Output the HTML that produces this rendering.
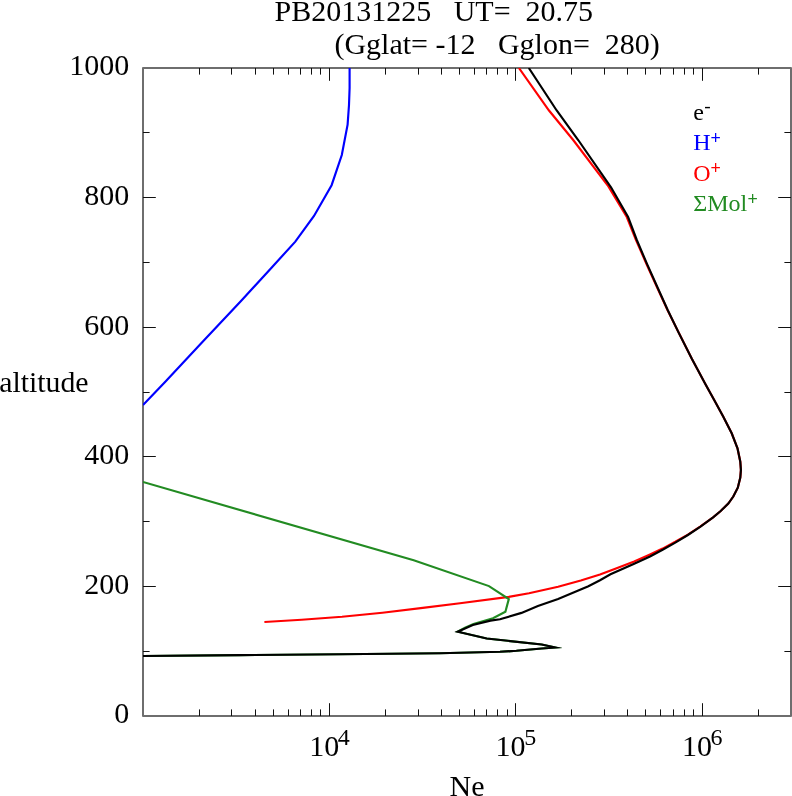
<!DOCTYPE html>
<html lang="en"><head><meta charset="utf-8"><title>PB20131225 UT= 20.75</title>
<style>html,body{margin:0;padding:0;background:#fff;overflow:hidden}svg{display:block}text{font-family:'Liberation Serif', 'DejaVu Serif', serif;white-space:pre}</style>
</head><body>
<svg width="792" height="796" viewBox="0 0 792 796">
<rect width="792" height="796" fill="#fff"/>
<defs><clipPath id="c"><rect x="143" y="68" width="648" height="648"/></clipPath></defs>
<rect x="143" y="68" width="648" height="648" fill="none" stroke="#6e6e6e" stroke-width="2" stroke-linejoin="round"/>
<g fill="#111">
<rect x="143" y="651" width="6.6" height="1"/>
<rect x="784.4" y="651" width="6.6" height="1"/>
<rect x="143" y="586" width="12.8" height="1"/>
<rect x="778.2" y="586" width="12.8" height="1"/>
<rect x="143" y="521" width="6.6" height="1"/>
<rect x="784.4" y="521" width="6.6" height="1"/>
<rect x="143" y="456" width="12.8" height="1"/>
<rect x="778.2" y="456" width="12.8" height="1"/>
<rect x="143" y="392" width="6.6" height="1"/>
<rect x="784.4" y="392" width="6.6" height="1"/>
<rect x="143" y="327" width="12.8" height="1"/>
<rect x="778.2" y="327" width="12.8" height="1"/>
<rect x="143" y="262" width="6.6" height="1"/>
<rect x="784.4" y="262" width="6.6" height="1"/>
<rect x="143" y="197" width="12.8" height="1"/>
<rect x="778.2" y="197" width="12.8" height="1"/>
<rect x="143" y="132" width="6.6" height="1"/>
<rect x="784.4" y="132" width="6.6" height="1"/>
<rect x="199" y="68" width="1" height="6.6"/>
<rect x="199" y="709.4" width="1" height="6.6"/>
<rect x="231" y="68" width="1" height="6.6"/>
<rect x="231" y="709.4" width="1" height="6.6"/>
<rect x="255" y="68" width="1" height="6.6"/>
<rect x="255" y="709.4" width="1" height="6.6"/>
<rect x="273" y="68" width="1" height="6.6"/>
<rect x="273" y="709.4" width="1" height="6.6"/>
<rect x="288" y="68" width="1" height="6.6"/>
<rect x="288" y="709.4" width="1" height="6.6"/>
<rect x="300" y="68" width="1" height="6.6"/>
<rect x="300" y="709.4" width="1" height="6.6"/>
<rect x="311" y="68" width="1" height="6.6"/>
<rect x="311" y="709.4" width="1" height="6.6"/>
<rect x="320" y="68" width="1" height="6.6"/>
<rect x="320" y="709.4" width="1" height="6.6"/>
<rect x="329" y="68" width="1" height="12.8"/>
<rect x="329" y="703.2" width="1" height="12.8"/>
<rect x="385" y="68" width="1" height="6.6"/>
<rect x="385" y="709.4" width="1" height="6.6"/>
<rect x="418" y="68" width="1" height="6.6"/>
<rect x="418" y="709.4" width="1" height="6.6"/>
<rect x="441" y="68" width="1" height="6.6"/>
<rect x="441" y="709.4" width="1" height="6.6"/>
<rect x="459" y="68" width="1" height="6.6"/>
<rect x="459" y="709.4" width="1" height="6.6"/>
<rect x="474" y="68" width="1" height="6.6"/>
<rect x="474" y="709.4" width="1" height="6.6"/>
<rect x="486" y="68" width="1" height="6.6"/>
<rect x="486" y="709.4" width="1" height="6.6"/>
<rect x="497" y="68" width="1" height="6.6"/>
<rect x="497" y="709.4" width="1" height="6.6"/>
<rect x="507" y="68" width="1" height="6.6"/>
<rect x="507" y="709.4" width="1" height="6.6"/>
<rect x="515" y="68" width="1" height="12.8"/>
<rect x="515" y="703.2" width="1" height="12.8"/>
<rect x="571" y="68" width="1" height="6.6"/>
<rect x="571" y="709.4" width="1" height="6.6"/>
<rect x="604" y="68" width="1" height="6.6"/>
<rect x="604" y="709.4" width="1" height="6.6"/>
<rect x="627" y="68" width="1" height="6.6"/>
<rect x="627" y="709.4" width="1" height="6.6"/>
<rect x="645" y="68" width="1" height="6.6"/>
<rect x="645" y="709.4" width="1" height="6.6"/>
<rect x="660" y="68" width="1" height="6.6"/>
<rect x="660" y="709.4" width="1" height="6.6"/>
<rect x="673" y="68" width="1" height="6.6"/>
<rect x="673" y="709.4" width="1" height="6.6"/>
<rect x="684" y="68" width="1" height="6.6"/>
<rect x="684" y="709.4" width="1" height="6.6"/>
<rect x="693" y="68" width="1" height="6.6"/>
<rect x="693" y="709.4" width="1" height="6.6"/>
<rect x="702" y="68" width="1" height="12.8"/>
<rect x="702" y="703.2" width="1" height="12.8"/>
<rect x="758" y="68" width="1" height="6.6"/>
<rect x="758" y="709.4" width="1" height="6.6"/>
</g>
<g clip-path="url(#c)">
<polyline points="349.6,68.0 349.6,88.0 349.0,105.0 347.6,124.6 341.8,155.0 331.6,185.2 314.0,216.0 295.3,241.6 271.3,268.0 241.0,301.0 203.1,341.3 165.3,381.7 143.0,405.0" fill="none" stroke="#0000ff" stroke-width="2.15" stroke-linejoin="miter" stroke-miterlimit="10" />
<polyline points="518.9,68.0 549.0,110.5 573.2,140.0 608.4,186.4 626.8,217.0 635.8,239.5 646.6,264.2 657.5,288.2 667.5,310.0 678.4,332.1 691.7,358.6 705.6,384.5 714.2,400.0 723.3,416.7 731.7,433.3 737.5,448.3 740.3,461.7 740.9,470.0 740.3,477.6 737.8,487.7 733.3,496.5 728.3,503.5 720.7,511.0 713.1,517.3 700.5,526.4 687.9,534.6 675.3,541.8 662.6,548.6 650.0,554.4 634.2,561.4 615.3,568.8 600.0,574.6 580.8,580.5 558.1,586.8 529.0,593.2 508.8,596.9 460.0,603.3 422.8,607.9 382.4,612.7 342.0,616.8 301.6,619.7 264.4,622.0" fill="none" stroke="#ff0000" stroke-width="2.15" stroke-linejoin="miter" stroke-miterlimit="10" />
<polyline points="143.0,482.0 413.7,560.2 489.0,586.1 508.8,599.1 505.4,611.8 493.0,618.2 473.5,624.0 465.0,627.6 457.7,631.7 486.7,638.5 541.7,644.5 555.2,647.5 541.7,648.5 516.4,650.8 500.0,651.8 440.0,653.3 340.0,654.3 240.0,655.1 143.0,656.0" fill="none" stroke="#228b22" stroke-width="2.15" stroke-linejoin="miter" stroke-miterlimit="10" />
<polyline points="528.8,68.0 556.7,110.5 578.2,140.0 611.0,187.3 628.1,217.0 636.6,239.5 647.1,264.2 657.9,288.2 667.7,310.0 678.4,332.1 691.7,358.6 705.6,384.5 714.2,400.0 723.3,416.7 731.7,433.3 737.5,448.3 740.3,461.7 740.9,470.0 740.3,477.6 737.8,487.7 733.3,496.5 728.3,503.5 720.7,511.0 713.1,517.3 700.5,526.6 687.9,535.0 675.3,542.6 662.6,549.8 650.0,556.5 634.2,563.8 610.5,574.3 600.0,580.2 588.4,586.3 578.3,590.6 558.1,599.0 537.9,606.0 521.5,612.9 500.0,619.2 490.5,620.6 472.8,625.0 457.7,631.7 486.7,638.5 541.7,644.5 555.2,647.5 541.7,648.5 516.4,650.8 500.0,651.8 440.0,653.3 340.0,654.3 240.0,655.1 143.0,656.0" fill="none" stroke="#000000" stroke-width="2.15" stroke-linejoin="miter" stroke-miterlimit="10" />
</g>
<g fill="#000">
<text transform="translate(274.50 20.80)" font-size="30" xml:space="preserve">PB20131225   UT=  20.75</text>
<text transform="translate(334.40 53.90)" font-size="30" xml:space="preserve">(Gglat= -12   Gglon=  280)</text>
<text transform="translate(129.30 723.30)" font-size="30" text-anchor="end" xml:space="preserve">0</text>
<text transform="translate(129.30 593.70)" font-size="30" text-anchor="end" xml:space="preserve">200</text>
<text transform="translate(129.30 464.10)" font-size="30" text-anchor="end" xml:space="preserve">400</text>
<text transform="translate(129.30 334.50)" font-size="30" text-anchor="end" xml:space="preserve">600</text>
<text transform="translate(129.30 204.90)" font-size="30" text-anchor="end" xml:space="preserve">800</text>
<text transform="translate(129.30 75.30)" font-size="30" text-anchor="end" xml:space="preserve">1000</text>
<text transform="translate(-0.80 391.80)" font-size="29.8" xml:space="preserve">altitude</text>
<text transform="translate(467.00 796.00)" font-size="30" text-anchor="middle" xml:space="preserve">Ne</text>
<text transform="translate(309.16 756.40)" font-size="30" xml:space="preserve">10</text>
<text transform="translate(337.86 745.30)" font-size="24" xml:space="preserve">4</text>
<text transform="translate(495.52 756.40)" font-size="30" xml:space="preserve">10</text>
<text transform="translate(524.22 745.30)" font-size="24" xml:space="preserve">5</text>
<text transform="translate(681.88 756.40)" font-size="30" xml:space="preserve">10</text>
<text transform="translate(710.58 745.30)" font-size="24" xml:space="preserve">6</text>
</g>
<g font-size="24">
<text x="693.2" y="119.9" fill="#000000">e</text>
<text x="704.3" y="111.5" fill="#000000" font-size="19.2">-</text>
<text x="693.2" y="150.3" fill="#0000ff">H</text>
<text x="710.4" y="144.1" fill="#0000ff" font-size="17.6" style="font-family:'Liberation Sans',sans-serif">+</text>
<text x="693.2" y="180.5" fill="#ff0000">O</text>
<text x="710.4" y="174.3" fill="#ff0000" font-size="17.6" style="font-family:'Liberation Sans',sans-serif">+</text>
<text x="693.2" y="210.9" fill="#228b22">ΣMol</text>
<text x="747.6" y="204.7" fill="#228b22" font-size="17.6" style="font-family:'Liberation Sans',sans-serif">+</text>
</g>
</svg>
</body></html>
